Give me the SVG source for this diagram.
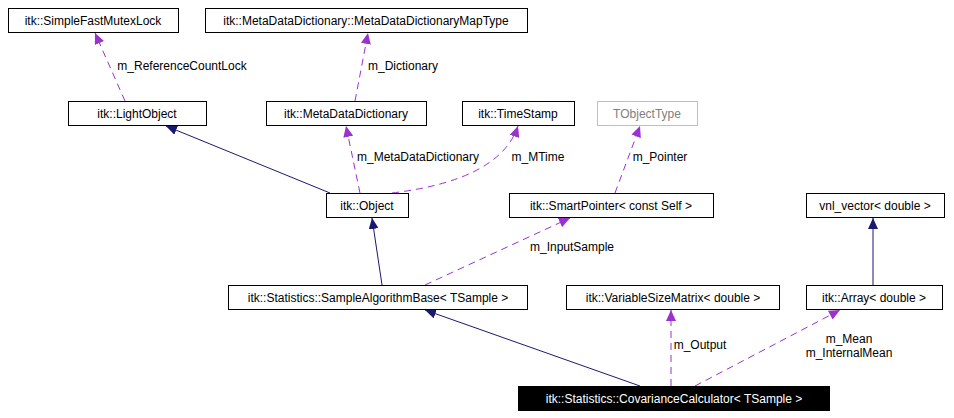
<svg xmlns="http://www.w3.org/2000/svg" width="954" height="418" viewBox="0 0 954 418">
<style>
text{font-family:"Liberation Sans",Arial,sans-serif;font-size:12px;fill:#000}
.n rect{fill:#fff;stroke:#000;stroke-width:1}
.n text{text-anchor:middle}
.s{stroke:#191970;fill:none;stroke-width:1}
.d{stroke:#9a32cd;fill:none;stroke-width:1;stroke-dasharray:7,5}
.l{text-anchor:middle}
</style>
<defs>
<marker id="an" markerWidth="12" markerHeight="10" refX="11" refY="5" orient="auto" markerUnits="userSpaceOnUse"><path d="M0,0 L11,5 L0,10 z" fill="#191970"/></marker>
<marker id="ap" markerWidth="12" markerHeight="10" refX="11" refY="5" orient="auto" markerUnits="userSpaceOnUse"><path d="M0,0 L11,5 L0,10 z" fill="#9a32cd"/></marker>
</defs>
<rect width="954" height="418" fill="#fff"/>
<g id="edges">
<path class="s" d="M330,193 L166,126" marker-end="url(#an)"/>
<path class="d" d="M125,101 L95,33" marker-end="url(#ap)"/>
<path class="d" d="M355,101 L368,33" marker-end="url(#ap)"/>
<path class="d" d="M360,193 L346,126" marker-end="url(#ap)"/>
<path class="d" d="M392,193 Q500,180 518,126" marker-end="url(#ap)"/>
<path class="d" d="M615,193 L640,126" marker-end="url(#ap)"/>
<path class="s" d="M382,285 L372,218" marker-end="url(#an)"/>
<path class="d" d="M425,285 L570,218" marker-end="url(#ap)"/>
<path class="s" d="M873,285 L873,218" marker-end="url(#an)"/>
<path class="s" d="M640,386 L425,310" marker-end="url(#an)"/>
<path class="d" d="M671,386 L671,310" marker-end="url(#ap)"/>
<path class="d" d="M695,386 L840,310" marker-end="url(#ap)"/>
<text x="182" y="70" class="l">m_ReferenceCountLock</text>
<text x="403" y="70" class="l">m_Dictionary</text>
<text x="418" y="161" class="l">m_MetaDataDictionary</text>
<text x="538" y="161" class="l">m_MTime</text>
<text x="660" y="161" class="l">m_Pointer</text>
<text x="572" y="251" class="l">m_InputSample</text>
<text x="700" y="349" class="l">m_Output</text>
<text x="849" y="343" class="l">m_Mean</text>
<text x="849" y="357" class="l">m_InternalMean</text>
</g>
<g id="n1" class="n"><rect x="8.5" y="8.5" width="170" height="24"/><text x="93" y="25">itk::SimpleFastMutexLock</text></g>
<g id="n2" class="n"><rect x="205.5" y="8.5" width="322" height="24"/><text x="366" y="25">itk::MetaDataDictionary::MetaDataDictionaryMapType</text></g>
<g id="n3" class="n"><rect x="68.5" y="101.5" width="138" height="24"/><text x="137" y="118">itk::LightObject</text></g>
<g id="n4" class="n"><rect x="266.5" y="101.5" width="160" height="24"/><text x="346" y="118">itk::MetaDataDictionary</text></g>
<g id="n5" class="n"><rect x="462.5" y="101.5" width="112" height="24"/><text x="518" y="118">itk::TimeStamp</text></g>
<g id="n6" class="n"><rect x="597.5" y="101.5" width="100" height="24" style="stroke:#bfbfbf"/><text x="647" y="118" style="fill:#808080">TObjectType</text></g>
<g id="n7" class="n"><rect x="326.5" y="193.5" width="82" height="24"/><text x="367" y="210">itk::Object</text></g>
<g id="n8" class="n"><rect x="509.5" y="193.5" width="204" height="24"/><text x="611" y="210">itk::SmartPointer&lt; const Self &gt;</text></g>
<g id="n9" class="n"><rect x="806.5" y="193.5" width="138" height="24"/><text x="875" y="210">vnl_vector&lt; double &gt;</text></g>
<g id="n10" class="n"><rect x="228.5" y="285.5" width="299" height="24"/><text x="378" y="302">itk::Statistics::SampleAlgorithmBase&lt; TSample &gt;</text></g>
<g id="n11" class="n"><rect x="566.5" y="285.5" width="213" height="24"/><text x="673" y="302">itk::VariableSizeMatrix&lt; double &gt;</text></g>
<g id="n12" class="n"><rect x="806.5" y="285.5" width="136" height="24"/><text x="874" y="302">itk::Array&lt; double &gt;</text></g>
<g id="n13" class="n"><rect x="518.5" y="386.5" width="311" height="24" style="fill:#000"/><text x="674" y="403" style="fill:#fff">itk::Statistics::CovarianceCalculator&lt; TSample &gt;</text></g>
</svg>
